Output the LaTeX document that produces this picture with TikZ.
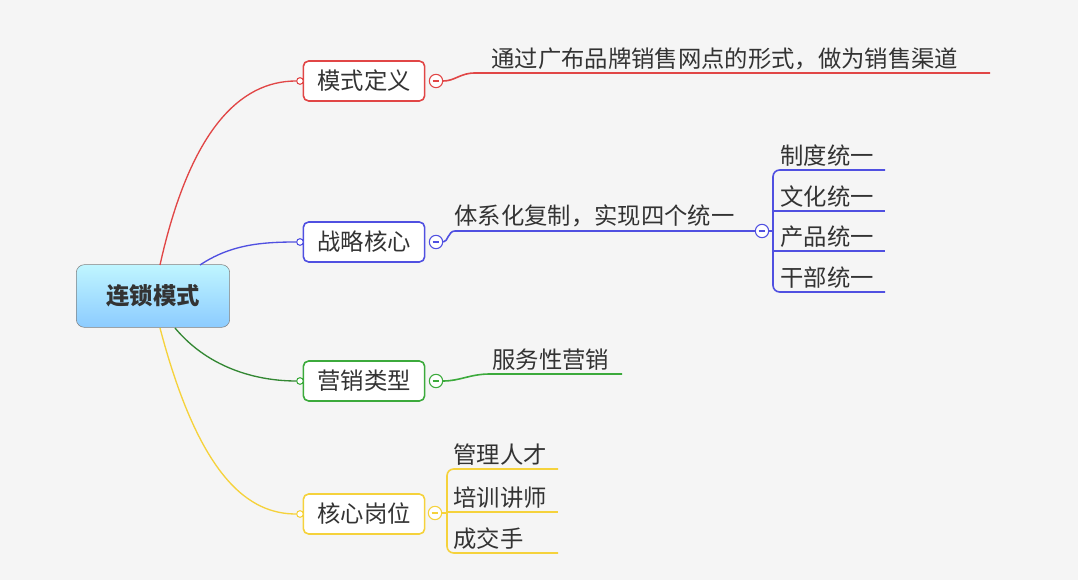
\documentclass[tikz,border=0pt]{standalone}
\usepackage{fontspec}
\setmainfont{Noto Sans CJK SC}
\begin{document}
\begin{tikzpicture}[x=0.75pt,y=-0.75pt,
  tbox/.style={draw=#1,line width=1.2pt,rounded corners=4pt,fill=white,minimum width=91pt,minimum height=30pt,inner xsep=2pt,font=\fontsize{17.5}{19}\selectfont,text=black!80},
  lbl/.style={font=\fontsize{17.5}{19}\selectfont,text=black!80,anchor=south west,inner sep=1pt},
  knob/.style={draw=#1,circle,fill=white,inner sep=0pt,minimum size=5pt,line width=0.8pt},
  col/.style={draw=#1,circle,fill=white,inner sep=0pt,minimum size=10pt,line width=0.8pt,path picture={\draw[#1,line width=1.2pt] ([xshift=-2.5pt]path picture bounding box.center) -- ([xshift=2.5pt]path picture bounding box.center);}},
  br/.style={line width=1.2pt,draw=#1}]
\useasboundingbox[fill=black!4] (0,0) rectangle (1078,580);
\definecolor{cr}{RGB}{225,70,70}\definecolor{cb}{RGB}{80,80,225}
\definecolor{cg}{RGB}{60,170,60}\definecolor{cy}{RGB}{245,210,60}
% root
\node[draw=black!50,rounded corners=6pt,top color=blue!15!cyan!25,bottom color=blue!45!cyan!45,minimum width=115pt,minimum height=47pt,font=\bfseries\fontsize{17.5}{19}\selectfont,text=black!80] (root) at (153,296) {连锁模式};
\coordinate (r1) at (160,265);\coordinate (r2) at (200,265);\coordinate (r3) at (175,328);\coordinate (r4) at (160,328);
% level-1
\node[tbox=cr] (a) at (364,81) {模式定义};
\node[tbox=cb] (b) at (364,242) {战略核心};
\node[tbox=cg] (c) at (364,381) {营销类型};
\node[tbox=cy] (d) at (364,514) {核心岗位};
\node[knob=cr] (ka) at (300,81) {};\node[knob=cb] (kb) at (300,242) {};
\node[knob=cg] (kc) at (300,381) {};\node[knob=cy] (kd) at (300,514) {};
\draw[cr,line width=1pt] (r1) .. controls (190,130) and (240,81) .. (ka);
\draw[cb,line width=1pt] (r2) .. controls (230,245) and (260,242) .. (kb);
\draw[black!45!green!60!gray,line width=1pt] (r3) .. controls (210,370) and (260,381) .. (kc);
\draw[cy,line width=1pt] (r4) .. controls (200,480) and (250,514) .. (kd);
% collapse markers
\node[col=cr] (ca) at (436,81) {};\node[col=cb] (cb1) at (436,242) {};
\node[col=cg] (cc) at (436,381) {};\node[col=cy] (cd) at (435,513) {};
% red branch
\coordinate (ua) at (475,73);\coordinate (ua2) at (990,73);
\draw[cr,line width=1.2pt] (ca) .. controls (455,81) and (460,73) .. (ua) -- (ua2);
\node[lbl] (ta) at (490,72) {通过广布品牌销售网点的形式，做为销售渠道};
% blue branch
\coordinate (ub) at (455,231);
\node[col=cb] (cb2) at (762,231) {};
\draw[cb,line width=1.2pt] (cb1) .. controls (448,242) and (448,231) .. (ub) -- (cb2);
\node[lbl] (tb) at (453,229) {体系化复制，实现四个统一};
\draw[br=cb,rounded corners=5pt] (885,170) -- (773,170) -- (773,292) -- (885,292);
\draw[br=cb] (cb2) -- (773,231);
\draw[br=cb] (773,211) -- (885,211); \draw[br=cb] (773,251) -- (885,251);
\node[lbl] (b1) at (779,168) {制度统一};
\node[lbl] (b2) at (779,209) {文化统一};
\node[lbl] (b3) at (779,249) {产品统一};
\node[lbl] (b4) at (779,290) {干部统一};
% green branch
\coordinate (uc) at (490,374);\coordinate (uc2) at (622,374);
\draw[cg,line width=1.2pt] (cc) .. controls (460,381) and (470,374) .. (uc) -- (uc2);
\node[lbl] (tc) at (491,372) {服务性营销};
% yellow branch
\draw[br=cy,rounded corners=5pt] (558,469) -- (447,469) -- (447,553) -- (558,553);
\draw[br=cy] (447,512) -- (558,512); \draw[br=cy] (cd) -- (447,513);
\node[lbl] (d1) at (452,467) {管理人才};
\node[lbl] (d2) at (452,510) {培训讲师};
\node[lbl] (d3) at (452,551) {成交手};
\end{tikzpicture}
\end{document}
